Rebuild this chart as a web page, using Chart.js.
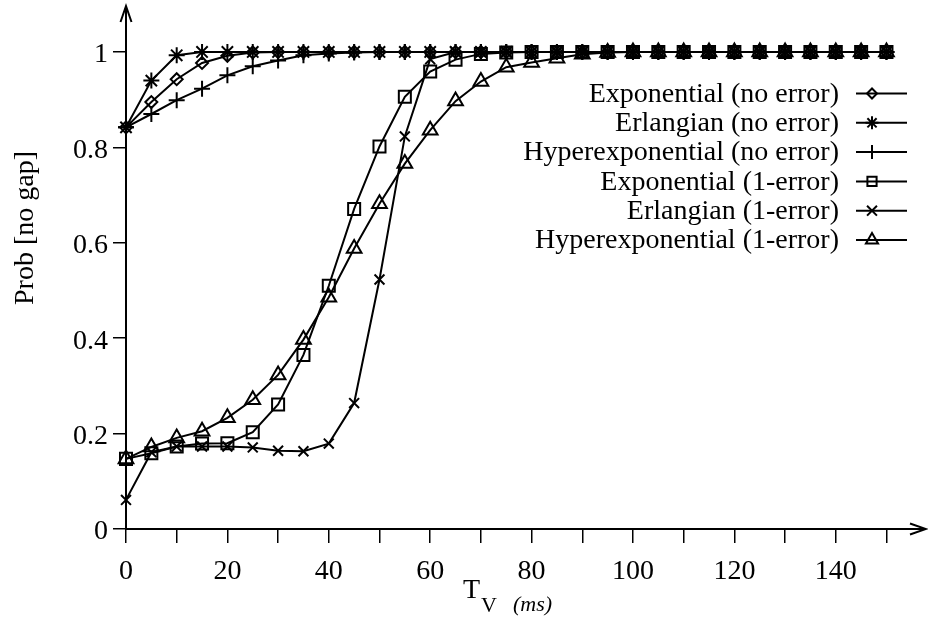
<!DOCTYPE html>
<html>
<head>
<meta charset="utf-8">
<script src="https://cdn.jsdelivr.net/npm/chart.js@4.4.1/dist/chart.umd.min.js"></script>
<style>
    html, body { margin: 0; padding: 0; background: #fff; }
    #wrap { width: 928px; height: 622px; position: relative; }
</style>
</head>
<body>
<div id="wrap"><canvas id="probChart" width="928" height="622"></canvas></div>
<script>
// T_V values (ms)
const tv = [0, 5, 10, 15, 20, 25, 30, 35, 40, 45, 50, 55, 60, 65, 70, 75,
            80, 85, 90, 95, 100, 105, 110, 115, 120, 125, 130, 135, 140, 145, 150];

const expNoErr = [0.842, 0.895, 0.943, 0.977, 0.992, 0.999, 1, 1, 1, 1, 1, 1, 1, 1, 1, 1,
                  1, 1, 1, 1, 1, 1, 1, 1, 1, 1, 1, 1, 1, 1, 1];
const erlNoErr = [0.842, 0.940, 0.993, 1, 1, 1, 1, 1, 1, 1, 1, 1, 1, 1, 1, 1,
                  1, 1, 1, 1, 1, 1, 1, 1, 1, 1, 1, 1, 1, 1, 1];
const hypNoErr = [0.842, 0.870, 0.899, 0.923, 0.951, 0.970, 0.982, 0.993, 0.997, 0.999, 1, 1, 1, 1, 1, 1,
                  1, 1, 1, 1, 1, 1, 1, 1, 1, 1, 1, 1, 1, 1, 1];
const exp1Err = [0.147, 0.159, 0.173, 0.179, 0.180, 0.203, 0.261, 0.365, 0.510, 0.671, 0.802, 0.906, 0.959, 0.984, 0.996, 0.999,
                 1, 1, 1, 1, 1, 1, 1, 1, 1, 1, 1, 1, 1, 1, 1];
const erl1Err = [0.061, 0.161, 0.173, 0.173, 0.173, 0.171, 0.164, 0.163, 0.179, 0.264, 0.523, 0.823, 0.985, 1, 1, 1,
                 1, 1, 1, 1, 1, 1, 1, 1, 1, 1, 1, 1, 1, 1, 1];
const hyp1Err = [0.147, 0.172, 0.191, 0.205, 0.233, 0.271, 0.323, 0.397, 0.486, 0.588, 0.682, 0.766, 0.836, 0.897, 0.938, 0.968,
                 0.978, 0.987, 0.995, 0.999, 1, 1, 1, 1, 1, 1, 1, 1, 1, 1, 1];

const seriesLabels = ['Exponential (no error)', 'Erlangian (no error)', 'Hyperexponential (no error)',
                      'Exponential (1-error)', 'Erlangian (1-error)', 'Hyperexponential (1-error)'];
const seriesValues = [expNoErr, erlNoErr, hypNoErr, exp1Err, erl1Err, hyp1Err];
const seriesMarkers = ['rectRot', 'star', 'cross', 'rect', 'crossRot', 'triangle'];
const markerSizes = [6, 8, 8, 8.5, 7, 8.5];
const legendMarkerSizes = [5, 6.5, 7, 6.5, 7, 7];

const xTicks = [0, 10, 20, 30, 40, 50, 60, 70, 80, 90, 100, 110, 120, 130, 140, 150];
const yTicks = [0, 0.2, 0.4, 0.6, 0.8, 1];

const FONT = '"Liberation Serif", "Times New Roman", serif';

// arrows at the ends of both axes
const axisArrows = {
    id: 'axisArrows',
    afterDraw(chart) {
        const ctx = chart.ctx;
        const a = chart.chartArea;
        ctx.save();
        ctx.strokeStyle = '#000';
        ctx.lineWidth = 2;
        ctx.beginPath();
        ctx.moveTo(a.left - 5.5, a.top + 15);
        ctx.lineTo(a.left, a.top - 1);
        ctx.lineTo(a.left + 5.5, a.top + 15);
        ctx.moveTo(a.right - 15, a.bottom - 5.5);
        ctx.lineTo(a.right + 1, a.bottom);
        ctx.lineTo(a.right - 15, a.bottom + 5.5);
        ctx.stroke();
        ctx.restore();
    }
};

// legend: right-aligned text, then a short line with the marker
const sideLegend = {
    id: 'sideLegend',
    afterDraw(chart) {
        const ctx = chart.ctx;
        ctx.save();
        ctx.font = '28px ' + FONT;
        ctx.textAlign = 'right';
        ctx.textBaseline = 'middle';
        chart.data.datasets.forEach((ds, i) => {
            const y = 93.5 + i * 29.3;
            ctx.fillStyle = '#000';
            ctx.fillText(ds.label, 839, y + 1);
            ctx.strokeStyle = '#000';
            ctx.lineWidth = 2;
            ctx.beginPath();
            ctx.moveTo(856, y);
            ctx.lineTo(907, y);
            ctx.stroke();
            ctx.fillStyle = 'rgba(0,0,0,0)';
            Chart.helpers.drawPoint(ctx, {
                pointStyle: ds.pointStyle,
                radius: legendMarkerSizes[i],
                rotation: 0,
                borderWidth: 2
            }, 872, y);
        });
        ctx.restore();
    }
};

// axis titles (x title has a subscript)
const axisTitles = {
    id: 'axisTitles',
    afterDraw(chart) {
        const ctx = chart.ctx;
        ctx.save();
        ctx.fillStyle = '#000';
        ctx.textBaseline = 'alphabetic';
        ctx.textAlign = 'left';
        ctx.font = '28px ' + FONT;
        ctx.fillText('T', 463, 598);
        ctx.font = '22px ' + FONT;
        ctx.fillText('V', 481, 612);
        ctx.font = 'italic 22px ' + FONT;
        ctx.fillText('(ms)', 513, 611);

        ctx.translate(33, 228);
        ctx.rotate(-Math.PI / 2);
        ctx.textAlign = 'center';
        ctx.font = '28px ' + FONT;
        ctx.fillText('Prob [no gap]', 0, 0);
        ctx.restore();
    }
};

function initProbChart() {
    const datasets = seriesLabels.map((label, i) => ({
        label: label,
        data: tv.map((t, j) => ({ x: t, y: seriesValues[i][j] })),
        borderColor: '#000',
        borderWidth: 2,
        pointStyle: seriesMarkers[i],
        pointRadius: markerSizes[i],
        pointBorderColor: '#000',
        pointBorderWidth: 2,
        pointBackgroundColor: 'rgba(0,0,0,0)',
        tension: 0,
        clip: false
    }));

    new Chart(document.getElementById('probChart').getContext('2d'), {
        type: 'line',
        data: { datasets: datasets },
        options: {
            responsive: false,
            animation: false,
            events: [],
            layout: { autoPadding: false, padding: { top: 7, right: 3, left: 0, bottom: 0 } },
            plugins: {
                legend: { display: false },
                tooltip: { enabled: false }
            },
            scales: {
                x: {
                    type: 'linear',
                    min: 0,
                    max: 157.6,
                    afterBuildTicks: s => { s.ticks = xTicks.map(v => ({ value: v })); },
                    afterFit: s => { s.height = 93; s.paddingLeft = 0; s.paddingRight = 0; },
                    border: { display: true, color: '#000', width: 2 },
                    grid: { drawOnChartArea: false, drawTicks: true, tickLength: 14, color: '#000', lineWidth: 1.5 },
                    ticks: {
                        color: '#000',
                        font: { family: FONT, size: 28 },
                        padding: 12,
                        maxRotation: 0,
                        autoSkip: false,
                        callback: v => (v % 20 === 0 ? String(v) : '')
                    }
                },
                y: {
                    type: 'linear',
                    min: 0,
                    max: 1.0943,
                    afterBuildTicks: s => { s.ticks = yTicks.map(v => ({ value: v })); },
                    afterFit: s => { s.width = 126; s.paddingTop = 0; s.paddingBottom = 0; },
                    border: { display: true, color: '#000', width: 2 },
                    grid: { drawOnChartArea: false, drawTicks: true, tickLength: 13, color: '#000', lineWidth: 1.5 },
                    ticks: {
                        color: '#000',
                        font: { family: FONT, size: 28 },
                        padding: 5,
                        labelOffset: 3,
                        autoSkip: false,
                        callback: v => (v === 0 || v === 1 ? String(v) : v.toFixed(1))
                    }
                }
            }
        },
        plugins: [axisArrows, sideLegend, axisTitles]
    });
}

initProbChart();
</script>
</body>
</html>
